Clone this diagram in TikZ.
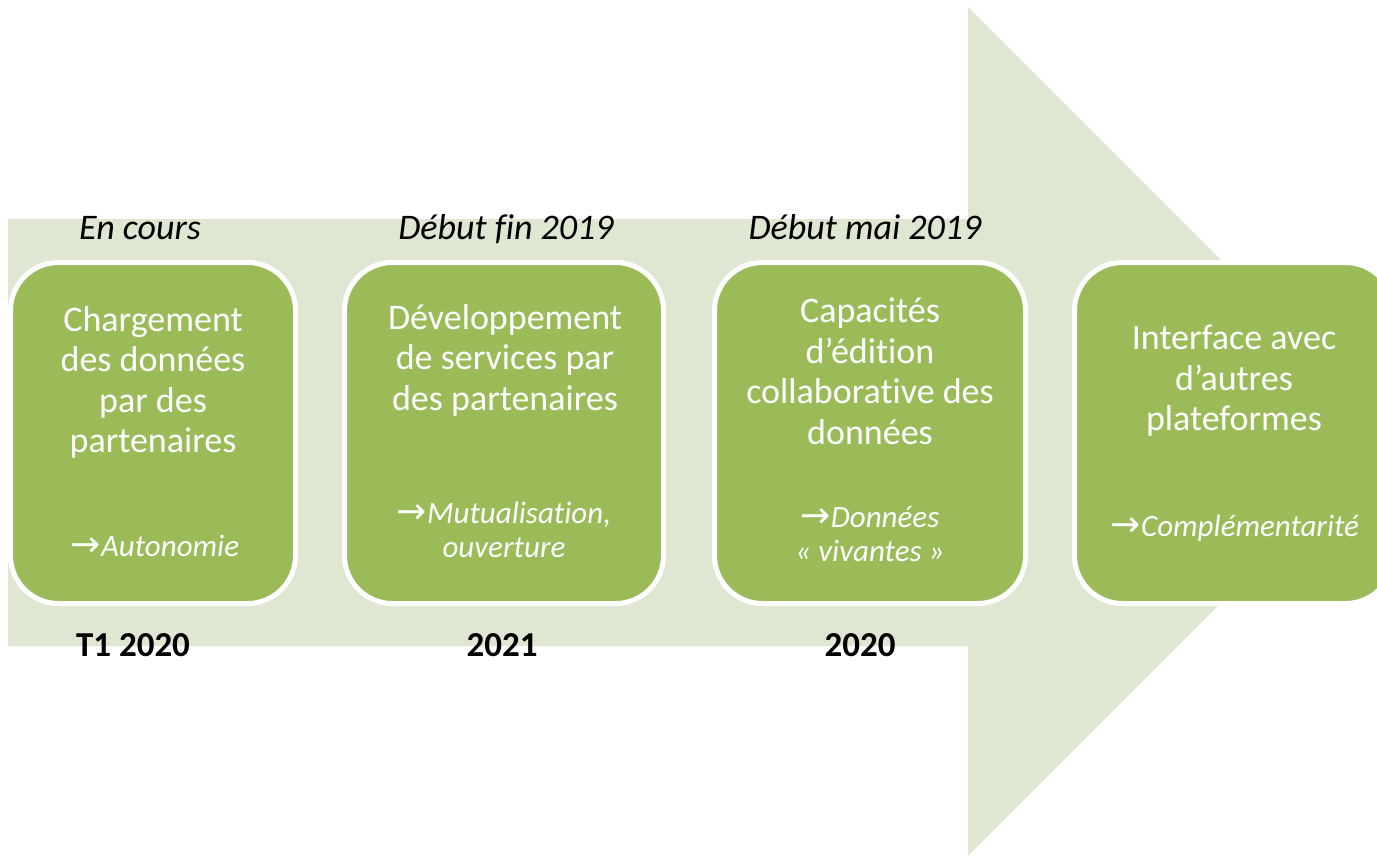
\documentclass[tikz,border=0pt]{standalone}
\usepackage{fontspec}
\setmainfont{Carlito}[Ligatures=NoCommon]
\newfontfamily\arrowfont{DejaVu Sans}
\definecolor{arrowgreen}{HTML}{DFE7D3}
\definecolor{stagegreen}{HTML}{9BBB59}
\newcommand{\gainarrow}{{\arrowfont\upshape\fontsize{36}{34}\selectfont →}}
\tikzset{
	stage/.style={draw=white, line width=5pt, fill=stagegreen, rounded corners=48pt, minimum height=341pt},
	stagetxt/.style={text=white, align=center, inner sep=0pt, anchor=north, font=\fontsize{36}{40.5}\selectfont},
	gaintxt/.style={text=white, align=center, inner sep=0pt, anchor=south, font=\fontsize{31}{34}\selectfont\itshape},
	datetxt/.style={inner sep=0pt, anchor=base, font=\fontsize{36}{40}\selectfont\itshape},
	yeartxt/.style={inner sep=0pt, anchor=base, font=\fontsize{35}{40}\selectfont\bfseries}
}
\begin{document}
\begin{tikzpicture}[x=1pt, y=-1pt]
	\useasboundingbox (0,0) rectangle (1377,856);
	\clip (0,0) rectangle (1377,856);
	\fill[arrowgreen] (8,219) -- (968,219) -- (968,7) -- (1392.5,431.5) -- (968,856) -- (968,646) -- (8,646) -- cycle;
	\node[stage, minimum width=285pt] (load) at (153,433) {};
	\node[stage, minimum width=319pt] (serv) at (504,433) {};
	\node[stage, minimum width=311pt] (edit) at (870,433) {};
	\node[stage, minimum width=319pt] (link) at (1234,433) {};
	\node[stagetxt] (loadtxt) at (153,306) {Chargement\\des données\\par des\\partenaires};
	\node[stagetxt] (servtxt) at (505,304) {Développement\\de services par\\des partenaires};
	\node[stagetxt] (edittxt) at (870,298) {Capacités\\d’édition\\collaborative des\\données};
	\node[stagetxt] (linktxt) at (1234,325) {Interface avec\\d’autres\\plateformes};
	\node[gaintxt] (loadgain) at (155,557) {\gainarrow Autonomie};
	\node[gaintxt] (servgain) at (504,558) {\gainarrow Mutualisation,\\ouverture};
	\node[gaintxt] (editgain) at (870,562) {\gainarrow Données\\« vivantes »};
	\node[gaintxt] (linkgain) at (1235,542) {\gainarrow Complémentarité};
	\node[datetxt] (loaddate) at (140,240) {En cours};
	\node[datetxt] (servdate) at (506,240) {Début fin 2019};
	\node[datetxt] (editdate) at (865,240) {Début mai 2019};
	\node[yeartxt] (loadyear) at (133,656) {T1 2020};
	\node[yeartxt] (servyear) at (502,656) {2021};
	\node[yeartxt] (edityear) at (860,656) {2020};
\end{tikzpicture}
\end{document}
